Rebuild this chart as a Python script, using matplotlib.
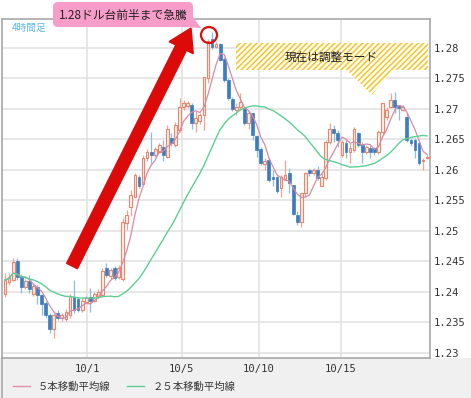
import numpy as np
import pandas as pd
import matplotlib
matplotlib.use('Agg')
import matplotlib.pyplot as plt
from matplotlib.patches import Rectangle, FancyBboxPatch, Polygon, FancyArrow, Circle
from matplotlib.lines import Line2D

plt.rcParams['font.family'] = ['Noto Sans CJK JP', 'DejaVu Sans']
plt.rcParams['hatch.linewidth'] = 1.1

# ---------------- data (4-hour candles) ----------------
opens = [1.2396, 1.2416, 1.2420, 1.2450, 1.2426, 1.2408, 1.2418, 1.2397, 1.2409, 1.2395,
         1.2382, 1.2362, 1.2340, 1.2366, 1.2357, 1.2356, 1.2362, 1.2392, 1.2388, 1.2371,
         1.2384, 1.2392, 1.2386, 1.2393, 1.2395, 1.2440, 1.2427, 1.2440, 1.2424, 1.2422,
         1.2513, 1.2540, 1.2556, 1.2589, 1.2577, 1.2619, 1.2630, 1.2625, 1.2630, 1.2638,
         1.2622, 1.2652, 1.2641, 1.2666, 1.2703, 1.2705, 1.2707, 1.2677, 1.2680, 1.2690,
         1.2750, 1.2815, 1.2802, 1.2806, 1.2782, 1.2748, 1.2716, 1.2699, 1.2703, 1.2701,
         1.2677, 1.2693, 1.2655, 1.2635, 1.2609, 1.2616, 1.2589, 1.2589, 1.2570, 1.2586,
         1.2595, 1.2575, 1.2526, 1.2515, 1.2562, 1.2600, 1.2595, 1.2600, 1.2573, 1.2587,
         1.2646, 1.2668, 1.2660, 1.2625, 1.2644, 1.2630, 1.2633, 1.2660, 1.2641, 1.2630,
         1.2636, 1.2636, 1.2630, 1.2663, 1.2687, 1.2704, 1.2715, 1.2707, 1.2698, 1.2687,
         1.2649, 1.2649, 1.2644, 1.2614, 1.2620]
highs = [1.2431, 1.2431, 1.2455, 1.2455, 1.2430, 1.2422, 1.2428, 1.2415, 1.2412, 1.2397,
         1.2385, 1.2365, 1.2365, 1.2370, 1.2366, 1.2372, 1.2396, 1.2419, 1.2392, 1.2390,
         1.2393, 1.2406, 1.2400, 1.2405, 1.2440, 1.2447, 1.2440, 1.2443, 1.2444, 1.2521,
         1.2534, 1.2567, 1.2595, 1.2592, 1.2625, 1.2634, 1.2663, 1.2637, 1.2644, 1.2649,
         1.2674, 1.2660, 1.2679, 1.2718, 1.2715, 1.2713, 1.2709, 1.2696, 1.2694, 1.2753,
         1.2815, 1.2826, 1.2809, 1.2808, 1.2785, 1.2750, 1.2720, 1.2709, 1.2726, 1.2704,
         1.2698, 1.2694, 1.2657, 1.2638, 1.2619, 1.2619, 1.2600, 1.2590, 1.2592, 1.2616,
         1.2603, 1.2576, 1.2532, 1.2562, 1.2597, 1.2602, 1.2603, 1.2606, 1.2597, 1.2649,
         1.2677, 1.2674, 1.2666, 1.2649, 1.2649, 1.2644, 1.2671, 1.2663, 1.2646, 1.2641,
         1.2641, 1.2638, 1.2666, 1.2709, 1.2704, 1.2726, 1.2728, 1.2707, 1.2706, 1.2693,
         1.2652, 1.2652, 1.2646, 1.2619, 1.2625]
lows = [1.2392, 1.2412, 1.2418, 1.2420, 1.2398, 1.2405, 1.2398, 1.2393, 1.2380, 1.2362,
        1.2358, 1.2332, 1.2325, 1.2354, 1.2352, 1.2353, 1.2358, 1.2366, 1.2367, 1.2368,
        1.2380, 1.2368, 1.2383, 1.2390, 1.2392, 1.2424, 1.2422, 1.2420, 1.2421, 1.2418,
        1.2502, 1.2525, 1.2555, 1.2570, 1.2575, 1.2615, 1.2611, 1.2622, 1.2628, 1.2614,
        1.2619, 1.2640, 1.2638, 1.2663, 1.2698, 1.2702, 1.2668, 1.2663, 1.2676, 1.2666,
        1.2742, 1.2799, 1.2800, 1.2778, 1.2745, 1.2715, 1.2697, 1.2690, 1.2698, 1.2674,
        1.2668, 1.2649, 1.2622, 1.2608, 1.2600, 1.2581, 1.2573, 1.2562, 1.2556, 1.2584,
        1.2562, 1.2526, 1.2510, 1.2507, 1.2556, 1.2590, 1.2592, 1.2584, 1.2573, 1.2584,
        1.2643, 1.2646, 1.2638, 1.2622, 1.2619, 1.2611, 1.2630, 1.2638, 1.2611, 1.2627,
        1.2619, 1.2625, 1.2627, 1.2657, 1.2682, 1.2701, 1.2693, 1.2682, 1.2696, 1.2646,
        1.2640, 1.2619, 1.2608, 1.2600, 1.2618]
closes = [1.2420, 1.2424, 1.2449, 1.2424, 1.2408, 1.2418, 1.2405, 1.2410, 1.2395, 1.2380,
          1.2362, 1.2340, 1.2362, 1.2358, 1.2362, 1.2368, 1.2393, 1.2370, 1.2370, 1.2386,
          1.2390, 1.2386, 1.2396, 1.2400, 1.2435, 1.2428, 1.2436, 1.2423, 1.2440, 1.2515,
          1.2526, 1.2559, 1.2592, 1.2573, 1.2619, 1.2630, 1.2625, 1.2634, 1.2641, 1.2625,
          1.2668, 1.2644, 1.2674, 1.2704, 1.2709, 1.2710, 1.2677, 1.2685, 1.2690, 1.2753,
          1.2812, 1.2802, 1.2806, 1.2781, 1.2748, 1.2718, 1.2700, 1.2704, 1.2712, 1.2677,
          1.2693, 1.2657, 1.2633, 1.2611, 1.2614, 1.2584, 1.2586, 1.2565, 1.2589, 1.2592,
          1.2578, 1.2528, 1.2515, 1.2562, 1.2595, 1.2595, 1.2600, 1.2587, 1.2589, 1.2646,
          1.2668, 1.2660, 1.2649, 1.2646, 1.2630, 1.2636, 1.2668, 1.2641, 1.2630, 1.2638,
          1.2630, 1.2630, 1.2663, 1.2709, 1.2698, 1.2715, 1.2704, 1.2701, 1.2704, 1.2649,
          1.2644, 1.2633, 1.2611, 1.2616, 1.2622]

date_ticks = [20.2, 43.6, 62.6, 82.8]
date_labels = ['10/1', '10/5', '10/10', '10/15']
price_ticks = [1.23, 1.235, 1.24, 1.245, 1.25, 1.255, 1.26, 1.265, 1.27, 1.275, 1.28]
ma_labels = ['５本移動平均線', '２５本移動平均線']
timeframe_label = '4時間足'
callout_surge = '1.28ドル台前半まで急騰'
callout_adjust = '現在は調整モード'

# ---------------- figure ----------------
W, H = 471, 398
fig = plt.figure(figsize=(W / 100, H / 100), dpi=100)
fig.patch.set_facecolor('white')
T = fig.dpi_scale_trans


def px(x, y):
    return (x / 100, (H - y) / 100)


band = Rectangle((0, 0), W / 100, 40 / 100, transform=T, facecolor='#f0f0f0',
                 edgecolor='none', zorder=-2)
fig.add_artist(band)
fig.add_artist(Line2D([2 / W, 2 / W], [0, 40 / H], color='#a8a8a8', lw=1.2))

ax = fig.add_axes([2 / W, 40 / H, 428 / W, 339 / H])
ax.set_facecolor('white')

o = np.array(opens)
h = np.array(highs)
l = np.array(lows)
c = np.array(closes)
x = np.arange(len(c))
up = c >= o

ax.vlines(x[up], l[up], h[up], color='#f0a590', lw=0.9, zorder=2)
ax.vlines(x[~up], l[~up], h[~up], color='#8fbde2', lw=0.9, zorder=2)
body_lo = np.minimum(o, c)
body_h = np.maximum(np.abs(c - o), 0.00005)
ax.bar(x[up], body_h[up], bottom=body_lo[up], width=0.68, facecolor='#fdeee9',
       edgecolor='#e8866e', linewidth=0.8, zorder=3)
ax.bar(x[~up], body_h[~up], bottom=body_lo[~up], width=0.68, facecolor='#3b7dbe',
       edgecolor='#3b7dbe', linewidth=0.5, zorder=3)

s = pd.Series(closes)
ma5 = s.rolling(5, min_periods=1).mean()
ma25 = s.rolling(25, min_periods=1).mean()
ax.plot(x, ma5, color='#d98aa5', lw=0.9, zorder=4)
ax.plot(x, ma25, color='#5ccf96', lw=1.0, zorder=4)

ax.set_xlim(-0.74, 104.7)
ax.set_ylim(1.22918, 1.28475)
ax.set_xticks(date_ticks)
ax.set_xticklabels(date_labels)
ax.set_yticks(price_ticks)
ax.set_yticklabels([f'{v:g}' for v in price_ticks])
ax.yaxis.tick_right()
ax.tick_params(axis='both', length=0, labelsize=7.6, colors='#333333')
ax.tick_params(axis='y', pad=2.5)
ax.tick_params(axis='x', pad=4)
for lab in ax.get_xticklabels() + ax.get_yticklabels():
    lab.set_family('DejaVu Sans Mono')
ax.grid(True, color='#e0e0e0', lw=1.1)
ax.set_axisbelow(True)
for sp in ax.spines.values():
    sp.set_color('#a8a8a8')
    sp.set_linewidth(1.2)

handles = [Line2D([], [], color='#e38fa8', lw=1), Line2D([], [], color='#5ccf96', lw=1)]
leg = fig.legend(handles, ma_labels, loc='center left', bbox_to_anchor=(13 / W, (H - 387) / H),
                 ncol=2, frameon=False, fontsize=7.5, handlelength=1.6, handletextpad=0.8,
                 columnspacing=1.6, borderpad=0, borderaxespad=0)
for t in leg.get_texts():
    t.set_color('#333333')

# ---------------- annotations ----------------
x0, y0 = px(72, 266)
x1, y1 = px(191, 28)
fig.add_artist(FancyArrow(x0, y0, x1 - x0, y1 - y0, width=0.12, head_width=0.27,
                          head_length=0.22, length_includes_head=True, color='#dd0a0a',
                          transform=T, zorder=5))
fig.add_artist(Circle(px(209, 35), 0.08, transform=T, fill=False, edgecolor='#dd1010',
                      lw=1.6, zorder=6))

fig.add_artist(FancyBboxPatch(px(53, 27), 1.40, 0.25, boxstyle='round,pad=0,rounding_size=0.05',
                              transform=T, facecolor='#f89cca', edgecolor='none', zorder=6))
fig.add_artist(Polygon([px(182, 27), px(193, 17), px(201, 28)], closed=True, transform=T,
                       facecolor='#f89cca', edgecolor='none', zorder=6))
fig.text(123 / W, (H - 15) / H, callout_surge, ha='center', va='center', fontsize=8.5,
         color='#222222', zorder=7)

fig.add_artist(Polygon([px(236, 43), px(428, 43), px(428, 70), px(392, 70), px(372, 95),
                        px(347, 70), px(236, 70)], closed=True, transform=T,
                       facecolor='white', edgecolor='#f3c623', linewidth=0,
                       hatch='//////', zorder=5))
fig.text(331 / W, (H - 57) / H, callout_adjust, ha='center', va='center', fontsize=8.4,
         color='#222222', zorder=7)
fig.text(12 / W, (H - 28) / H, timeframe_label, ha='left', va='center', fontsize=7.0,
         color='#5ab8ee', zorder=7)

fig.savefig('out.png', dpi=100)
